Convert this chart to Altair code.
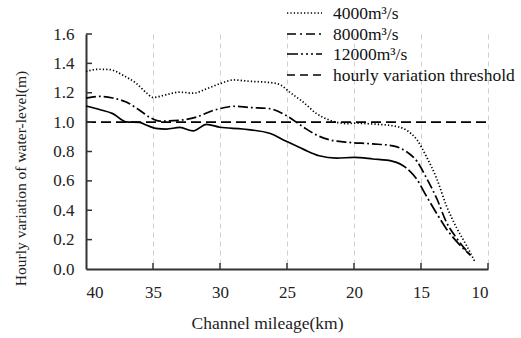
import altair as alt
import pandas as pd

# ---- data ----
km_4000 = [40, 39, 38.2, 37.2, 36.2, 35.5, 35.0, 34.0, 33.0, 32.0, 31.0, 30.0, 29.0, 27.8,
           26.3, 25.5, 24.8, 23.8, 22.8, 21.8, 20.5, 20.0, 18.6, 17.1, 16.1, 15.3, 14.6,
           13.8, 13.1, 12.3, 11.6, 11.0]
v_4000 = [1.345, 1.36, 1.357, 1.317, 1.26, 1.20, 1.168, 1.187, 1.204, 1.197, 1.227, 1.262,
          1.287, 1.278, 1.27, 1.254, 1.204, 1.137, 1.058, 1.013, 0.99, 0.993, 0.987, 0.975,
          0.946, 0.879, 0.766, 0.609, 0.43, 0.273, 0.16, 0.053]

km_8000 = [40, 39, 38, 37, 36, 35.2, 34.5, 33, 31.7, 30.5, 29.8, 29.0, 27.8, 26.3, 25.1,
           23.8, 22.8, 21.8, 20.5, 18.6, 17.1, 16.1, 15.3, 14.6, 13.8, 13.1, 12.3, 11.3]
v_8000 = [1.164, 1.175, 1.164, 1.137, 1.081, 1.03, 1.007, 1.013, 1.036, 1.08, 1.096, 1.108,
          1.10, 1.092, 1.047, 0.968, 0.912, 0.879, 0.863, 0.852, 0.838, 0.80, 0.733, 0.621,
          0.475, 0.318, 0.205, 0.093]

km_12000 = [40, 39, 38, 37, 36, 35.5, 34.8, 34, 33, 32, 31, 30, 28.3, 26.3, 25.1, 23.8,
            22.6, 21.3, 20, 18.6, 17.1, 16.1, 15.3, 14.6, 13.8, 13.1, 12.3, 11.3]
v_12000 = [1.11, 1.086, 1.058, 1.002, 0.998, 0.98, 0.958, 0.953, 0.964, 0.94, 0.985, 0.965,
           0.953, 0.924, 0.872, 0.816, 0.771, 0.755, 0.76, 0.749, 0.733, 0.688, 0.609, 0.497,
           0.374, 0.273, 0.183, 0.093]

km_threshold = [40, 10]
v_threshold = [1.0, 1.0]

x_ticks = [40, 35, 30, 25, 20, 15, 10]
y_ticks = [0.0, 0.2, 0.4, 0.6, 0.8, 1.0, 1.2, 1.4, 1.6]

legend_labels = ["4000m³/s", "8000m³/s", "12000m³/s", "hourly variation threshold"]

FONT = "Liberation Serif, Times New Roman, serif"
W, H = 402, 235

dash_4000 = [1.3, 2.1]
dash_8000 = [10, 3, 1.8, 3]
dash_12000 = [335, 3] + [12, 3, 2, 3] * 8
dash_thr = [10, 5]

x_scale = alt.Scale(domain=[40, 10], nice=False, zero=False)
y_scale = alt.Scale(domain=[0, 1.6], nice=False)

x_axis = alt.Axis(values=x_ticks, format=".0f", title="Channel mileage(km)",
                  grid=True, gridColor="#cfcfcf", gridDash=[5, 4], gridWidth=1,
                  ticks=False, tickSize=0, labelPadding=15, labelFontSize=17,
                  labelFont=FONT, labelColor="#222", titleFont=FONT, titleFontSize=17.5,
                  titleFontWeight="normal", titleColor="#222", titleX=181, titleY=54,
                  titleBaseline="middle", titleAnchor="start", titleAlign="center",
                  domainColor="#333", domainWidth=2)
y_axis = alt.Axis(values=y_ticks, format=".1f", title="Hourly variation of water-level(m)",
                  grid=False, ticks=False, tickSize=0, labelPadding=12, labelFontSize=17,
                  labelFont=FONT, labelColor="#222", titleFont=FONT, titleFontSize=15.5,
                  titleFontWeight="normal", titleColor="#222", titleX=-66, titleY=144,
                  titleBaseline="middle", titleAlign="center", titleAngle=-90,
                  domainColor="#333", domainWidth=2)

X = lambda f: alt.X(f, scale=x_scale, axis=x_axis)
Y = lambda f: alt.Y(f, scale=y_scale, axis=y_axis)


def series_layer(km, v, dash):
    df = pd.DataFrame({"km": km, "v": v})
    return alt.Chart(df).mark_line(interpolate="monotone", color="black",
                                   strokeWidth=1.7, strokeDash=dash).encode(
        x=X("km:Q"), y=Y("v:Q"), order=alt.Order("km:Q", sort="descending"))


layers = [
    series_layer(km_threshold, v_threshold, dash_thr),
    series_layer(km_4000, v_4000, dash_4000),
    series_layer(km_8000, v_8000, dash_8000),
    series_layer(km_12000, v_12000, dash_12000),
]

# inner tick marks
xt = alt.Chart(pd.DataFrame({"km": x_ticks[1:]})).mark_rule(color="#333", strokeWidth=1.5).encode(
    x=X("km:Q"), y=alt.value(H - 6), y2=alt.value(H))
yt = alt.Chart(pd.DataFrame({"v": y_ticks[1:]})).mark_rule(color="#333", strokeWidth=1.5).encode(
    y=Y("v:Q"), x=alt.value(0), x2=alt.value(6))
layers += [xt, yt]

# legend
leg_dash = [[1.3, 2.1], [9, 4, 2, 4], [11, 3, 2, 3, 2, 3, 2, 3], [8, 5]]
leg_y = [-21, 0, 20, 41]
one = pd.DataFrame({"a": [0]})
for lab, d, yy in zip(legend_labels, leg_dash, leg_y):
    layers.append(alt.Chart(one).mark_rule(color="black", strokeWidth=1.7, strokeDash=d).encode(
        x=alt.value(201), x2=alt.value(236), y=alt.value(yy)))
    layers.append(alt.Chart(one).mark_text(text=lab, font=FONT, fontSize=17.5, align="left",
                                           baseline="middle", color="#111").encode(
        x=alt.value(247), y=alt.value(yy + 1)))

chart = alt.layer(*layers).properties(
    width=W, height=H,
    autosize=alt.AutoSizeParams(type="none"),
    padding={"left": 86, "top": 34, "right": 33, "bottom": 69},
    background="white",
).configure_view(stroke=None)

chart.save("out.html", embed_options={"renderer": "svg", "actions": False})
